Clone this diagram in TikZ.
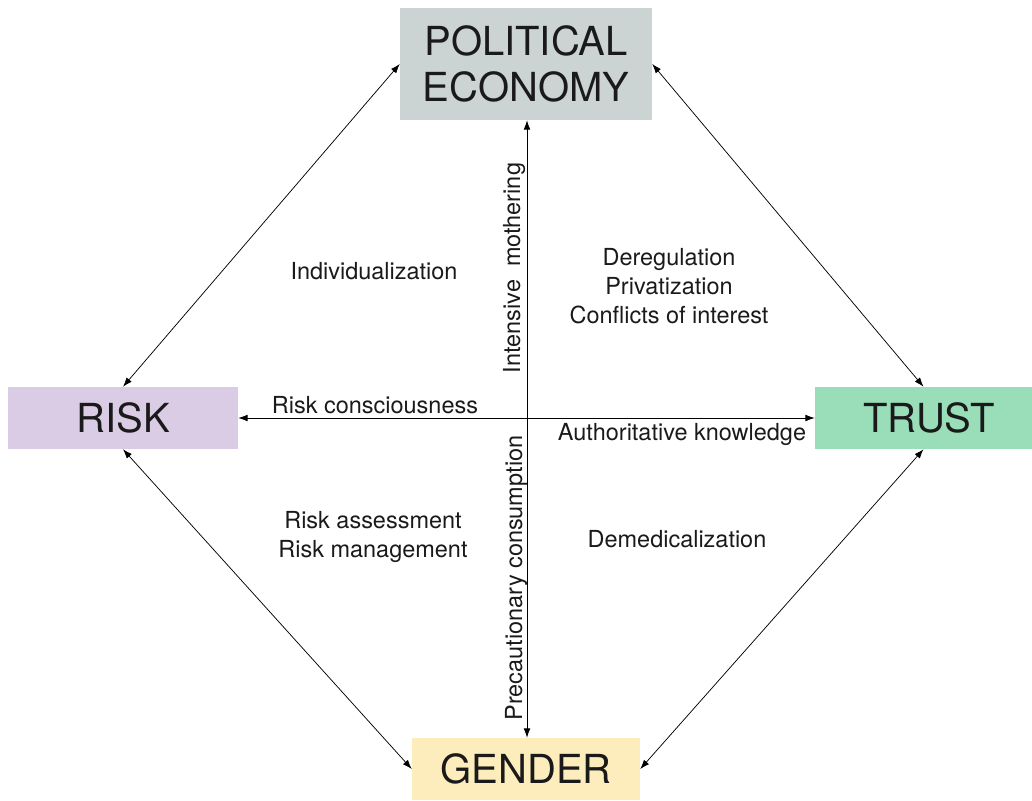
\documentclass[tikz,border=0pt]{standalone}
\usepackage{fontspec}
\setmainfont{TeX Gyre Heros}
\usetikzlibrary{arrows.meta}
\definecolor{peGray}{HTML}{CBD3D3}
\definecolor{riskLav}{HTML}{DBCCE6}
\definecolor{trustGreen}{HTML}{99DDB9}
\definecolor{genderYellow}{HTML}{FEEDBC}
\definecolor{ink}{HTML}{1A1A1A}
\begin{document}
\begin{tikzpicture}[x=0.75pt,y=-0.75pt,
  concept/.style={rectangle, inner sep=0pt, text=ink, align=center,
    font=\fontsize{30}{35}\selectfont},
  lbl/.style={text=ink, align=center, inner sep=0pt,
    font=\fontsize{17.6}{21.5}\selectfont},
  link/.style={draw=black, line width=0.55pt,
    {Latex[length=7pt,width=5pt]}-{Latex[length=7pt,width=5pt]}}]
  \useasboundingbox (0,0) rectangle (1032,800);

  % the four concepts
  \node[concept, fill=peGray, minimum width=252*0.75pt, minimum height=112*0.75pt]
    (pe) at (526,64) {POLITICAL\\ECONOMY};
  \node[concept, fill=riskLav, minimum width=230*0.75pt, minimum height=62*0.75pt]
    (risk) at (123,418) {RISK};
  \node[concept, fill=trustGreen, minimum width=217*0.75pt, minimum height=62*0.75pt]
    (trust) at (923.5,418) {};
  \node[concept] (trusttext) at (929,418) {TRUST};
  \node[concept, fill=genderYellow, minimum width=228*0.75pt, minimum height=62*0.75pt]
    (gender) at (526,769) {GENDER};

  % connections
  \draw[link] (pe.west) -- (risk.north);
  \draw[link] (pe.east) -- (trust.north);
  \draw[link] (risk.south) -- (gender.west);
  \draw[link] (trust.south) -- (gender.east);
  \draw[link] (pe.south -| 527,0) -- (gender.north -| 527,0);
  \draw[link] (risk.east) -- (trust.west);

  % relation labels
  \node[lbl] (indiv) at (374,271) {Individualization};
  \node[lbl] (dereg) at (669,286) {Deregulation\\Privatization\\Conflicts of interest};
  \node[lbl] (conscious) at (375,405) {Risk consciousness};
  \node[lbl] (author) at (682,434) {Authoritative knowledge};
  \node[lbl] (assess) at (373,537) {Risk assessment\\Risk management};
  \node[lbl] (demed) at (677,539) {Demedicalization};
  \node[lbl, rotate=90] (mother) at (514,268) {Intensive\ \ mothering};
  \node[lbl, rotate=90] (precaution) at (516,578) {Precautionary consumption};
\end{tikzpicture}
\end{document}
